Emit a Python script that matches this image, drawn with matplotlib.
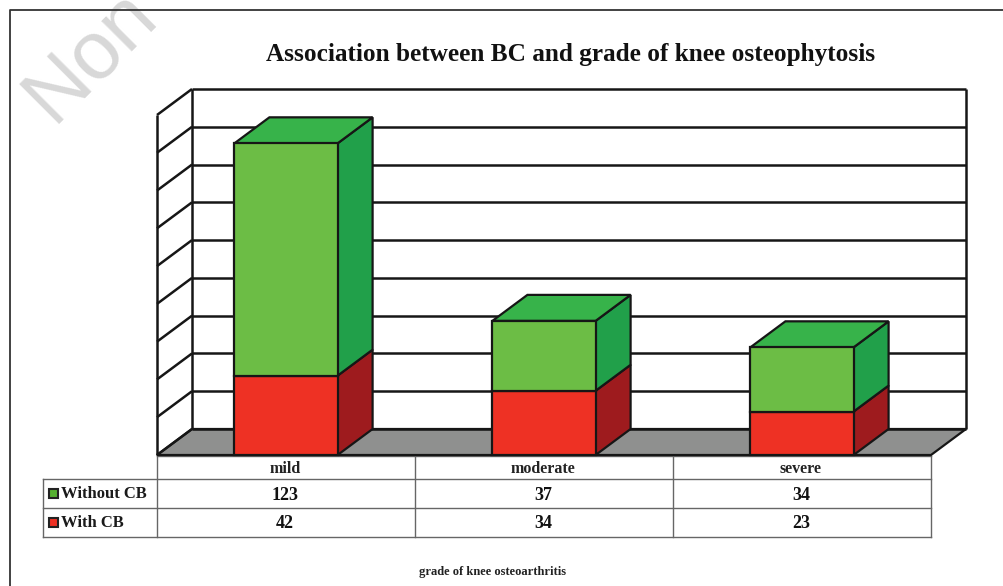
import matplotlib
matplotlib.use("Agg")
import matplotlib.pyplot as plt
from matplotlib.patches import Polygon, Rectangle

categories = ["mild", "moderate", "severe"]
without_cb = [123, 37, 34]
with_cb = [42, 34, 23]
series_names = ["Without CB", "With CB"]
y_ticks = list(range(0, 181, 20))
title = "Association between BC and grade of knee osteophytosis"
xlabel = "grade of knee osteoarthritis"

W, H = 1004, 586
plt.rcParams["font.family"] = ["Liberation Serif", "DejaVu Serif"]
fig = plt.figure(figsize=(W / 100, H / 100), dpi=100, facecolor="white")

# overlay in pixel coordinates for frame, watermark, table
pix = fig.add_axes([0, 0, 1, 1], zorder=1)
pix.set_xlim(0, W); pix.set_ylim(H, 0); pix.axis("off")

# data axes: front plane of the chart
L, R, B, T = 157, 931, 455, 115
ax = fig.add_axes([L / W, 1 - B / H, (R - L) / W, (B - T) / H], zorder=2)
ax.set_xlim(0, 3); ax.set_ylim(0, 180); ax.axis("off")
ax.patch.set_alpha(0)

dx = 35 / ((R - L) / 3)
dy = 26 / ((B - T) / 180)
K = "#161616"
lw = 1.6

def poly(pts, fc="none", z=2, ec=K, w=lw):
    ax.add_patch(Polygon(pts, closed=True, fc=fc, ec=ec, lw=w, zorder=z,
                         clip_on=False, joinstyle="miter"))

def seg(xs, ys, z=3, w=lw + 0.2, c=K):
    ax.plot(xs, ys, color=c, lw=w, zorder=z, clip_on=False, solid_capstyle="butt")

# floor
poly([(0, 0), (3, 0), (3 + dx, dy), (dx, dy)], fc="#8f908f", z=1)
# walls + grid
for v in y_ticks:
    seg([dx, 3 + dx], [v + dy, v + dy], z=1.5)
    seg([0, dx], [v, v + dy], z=1.5)
seg([0, 0], [0, 180], z=1.5)
seg([dx, dx], [dy, 180 + dy], z=1.5)
seg([3 + dx, 3 + dx], [dy, 180 + dy], z=1.5)

# bars
bw = 0.4
RED, RED_S = "#ee3124", "#9e1b1e"
GRN, GRN_S, GRN_T = "#6cbd45", "#21a04a", "#37b34a"
for i, (a, b) in enumerate(zip(with_cb, without_cb)):
    x0, x1 = i + 0.5 - bw / 2, i + 0.5 + bw / 2
    total = a + b
    z = 4
    poly([(x1, 0), (x1 + dx, dy), (x1 + dx, a + dy), (x1, a)], RED_S, z)
    poly([(x1, a), (x1 + dx, a + dy), (x1 + dx, total + dy), (x1, total)], GRN_S, z)
    poly([(x0, total), (x1, total), (x1 + dx, total + dy), (x0 + dx, total + dy)], GRN_T, z)
    poly([(x0, 0), (x1, 0), (x1, a), (x0, a)], RED, z + 0.1)
    poly([(x0, a), (x1, a), (x1, total), (x0, total)], GRN, z + 0.1)

# frame
pix.plot([10, 10, W], [H, 10, 10], color="#333333", lw=1.3, zorder=1)

# watermark
pix.text(91, 56, "Non", rotation=45, rotation_mode="anchor", fontsize=59, color="#d8d8d8",
         ha="center", va="center", family=["Liberation Sans", "DejaVu Sans"],
         zorder=0, clip_on=True)

# title, x label
pix.text(571, 54, title, ha="center", va="center", fontsize=18.2,
         fontweight="bold", color="#111111")
pix.text(493, 572, xlabel, ha="center", va="center", fontsize=9,
         fontweight="bold", color="#222222")

# table
G = "#666666"
rows_y = [456, 479, 508, 537]
cols_x = [157, 415, 673, 931]
left = 43
for y in rows_y:
    pix.plot([left if y != rows_y[0] else L, R], [y, y], color=G, lw=1.0)
for x in cols_x:
    pix.plot([x, x], [rows_y[0], rows_y[-1]], color=G, lw=1.0)
pix.plot([left, left], [rows_y[1], rows_y[-1]], color=G, lw=1.0)

for i, c in enumerate(categories):
    cx = (cols_x[i] + cols_x[i + 1]) / 2 - 1
    pix.text(cx, 469, c, ha="center", va="center", fontsize=11.5, fontweight="bold", color="#222222")
    pix.text(cx, 495, str(without_cb[i]), ha="center", va="center", fontsize=13, fontweight="bold", color="#111111")
    pix.text(cx, 524, str(with_cb[i]), ha="center", va="center", fontsize=13, fontweight="bold", color="#111111")

for name, yc, col in zip(series_names, [493, 522], ["#55b030", RED]):
    pix.add_patch(Rectangle((49, yc - 4.5), 9, 9, fc=col, ec="#222222", lw=1.5))
    pix.text(61, yc + 1, name, ha="left", va="center", fontsize=12, fontweight="bold", color="#1a1a1a")

fig.savefig("out.png", dpi=100, facecolor="white")
